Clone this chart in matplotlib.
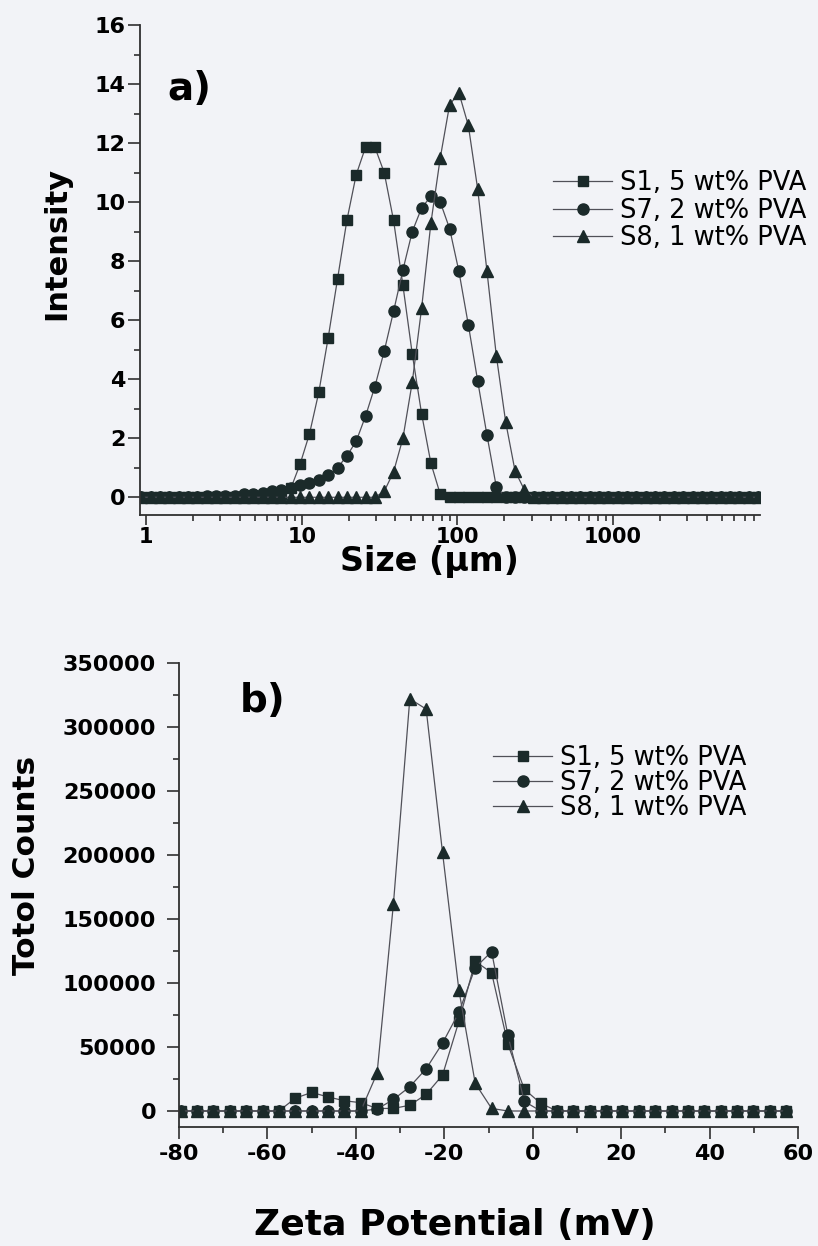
import matplotlib
matplotlib.use("Agg")
import matplotlib.pyplot as plt
from matplotlib.ticker import MultipleLocator, LogLocator, NullFormatter, FixedLocator

plt.rcParams["axes.unicode_minus"] = False

# particle size classes (um)
sizes = [0.933, 1.072, 1.230, 1.413, 1.622, 1.862, 2.138, 2.455, 2.818, 3.236,
         3.715, 4.266, 4.898, 5.623, 6.457, 7.413, 8.511, 9.772, 11.22, 12.88,
         14.79, 16.98, 19.50, 22.39, 25.70, 29.51, 33.88, 38.90, 44.67, 51.29,
         58.88, 67.61, 77.62, 89.13, 102.3, 117.5, 134.9, 154.9, 177.8, 204.2,
         234.4, 269.2, 309.0, 354.8, 407.4, 467.7, 537.0, 616.6, 707.9, 812.8,
         933.3, 1072, 1230, 1413, 1622, 1862, 2138, 2455, 2818, 3236,
         3715, 4266, 4898, 5623, 6457, 7413, 8511]

int_s1 = [0, 0, 0, 0, 0, 0, 0, 0, 0, 0,
          0, 0, 0, 0, 0, 0.1, 0.3, 1.13, 2.15, 3.56,
          5.4, 7.39, 9.38, 10.93, 11.86, 11.86, 11.0, 9.38, 7.18, 4.86,
          2.83, 1.15, 0.1, 0, 0, 0, 0, 0, 0, 0,
          0, 0, 0, 0, 0, 0, 0, 0, 0, 0,
          0, 0, 0, 0, 0, 0, 0, 0, 0, 0,
          0, 0, 0, 0, 0, 0, 0]

int_s7 = [0, 0, 0, 0, 0, 0, 0, 0.05, 0.05, 0.05,
          0.05, 0.1, 0.1, 0.15, 0.2, 0.25, 0.3, 0.4, 0.5, 0.6,
          0.75, 1.0, 1.4, 1.9, 2.75, 3.75, 4.95, 6.3, 7.7, 9.0,
          9.8, 10.2, 10.0, 9.1, 7.65, 5.85, 3.95, 2.1, 0.35, 0,
          0, 0, 0, 0, 0, 0, 0, 0, 0, 0,
          0, 0, 0, 0, 0, 0, 0, 0, 0, 0,
          0, 0, 0, 0, 0, 0, 0]

int_s8 = [0, 0, 0, 0, 0, 0, 0, 0, 0, 0,
          0, 0, 0, 0, 0, 0, 0, 0, 0, 0,
          0, 0, 0, 0, 0, 0, 0.2, 0.86, 2.0, 3.9,
          6.4, 9.3, 11.5, 13.3, 13.7, 12.6, 10.45, 7.65, 4.8, 2.55,
          0.9, 0.25, 0, 0, 0, 0, 0, 0, 0, 0,
          0, 0, 0, 0, 0, 0, 0, 0, 0, 0,
          0, 0, 0, 0, 0, 0, 0]

# zeta potential classes (mV)
zeta = [-79.6, -75.9, -72.2, -68.5, -64.8, -61.1, -57.4, -53.7, -50.0, -46.3,
        -42.6, -38.9, -35.2, -31.5, -27.8, -24.1, -20.4, -16.7, -13.0, -9.3,
        -5.6, -1.9, 1.8, 5.5, 9.2, 12.9, 16.6, 20.3, 24.0, 27.7,
        31.4, 35.1, 38.8, 42.5, 46.2, 49.9, 53.6, 57.3]

cnt_s1 = [0, 0, 0, 0, 0, 0, 0, 10000, 14500, 11000,
          8000, 6500, 2000, 2000, 4500, 13000, 28000, 70000, 117000, 108000,
          52000, 17000, 6000, 0, 0, 0, 0, 0, 0, 0,
          0, 0, 0, 0, 0, 0, 0, 0]

cnt_s7 = [0, 0, 0, 0, 0, 0, 0, 0, 0, 0,
          0, 0, 1500, 9000, 19000, 33000, 53000, 77000, 112000, 124500,
          59000, 7500, 0, 0, 0, 0, 0, 0, 0, 0,
          0, 0, 0, 0, 0, 0, 0, 0]

cnt_s8 = [0, 0, 0, 0, 0, 0, 0, 0, 0, 0,
          0, 0, 29500, 162000, 322000, 314000, 202000, 94500, 21600, 2000,
          0, 0, 0, 0, 0, 0, 0, 0, 0, 0,
          0, 0, 0, 0, 0, 0, 0, 0]

labels = ["S1, 5 wt% PVA", "S7, 2 wt% PVA", "S8, 1 wt% PVA"]

bg = "#f2f3f7"
mk = "#1b2a2a"
ln = "#505058"
W, H = 818, 1246

fig = plt.figure(figsize=(W / 100, H / 100), dpi=100, facecolor=bg)
ax1 = fig.add_axes([140 / W, 1 - 515 / H, 620 / W, 490 / H])
ax2 = fig.add_axes([179 / W, 1 - 1127 / H, 619 / W, 464 / H])


def draw(ax, x, ys):
    styles = [("s", 7.5), ("o", 8.0), ("^", 9.0)]
    for y, (m, ms), lab in zip(ys, styles, labels):
        ax.plot(x, y, color=ln, lw=0.9, marker=m, ms=ms, mfc=mk, mec=mk,
                label=lab)


draw(ax1, sizes, [int_s1, int_s7, int_s8])
draw(ax2, zeta, [cnt_s1, cnt_s7, cnt_s8])

for ax in (ax1, ax2):
    ax.set_facecolor(bg)
    for s in ("top", "right"):
        ax.spines[s].set_visible(False)
    for s in ("left", "bottom"):
        ax.spines[s].set_linewidth(1.3)
        ax.spines[s].set_color("#303030")
    ax.tick_params(which="both", direction="out", color="#303030", width=1.2)
    ax.tick_params(which="major", length=8.5, labelsize=16)
    ax.tick_params(which="minor", length=4.5)

# size distribution
ax1.set_xscale("log")
ax1.set_xlim(0.915, 8780)
ax1.set_ylim(-0.6, 16)
ax1.xaxis.set_major_locator(FixedLocator([1, 10, 100, 1000]))
ax1.xaxis.set_minor_locator(LogLocator(base=10, subs=range(2, 10)))
ax1.xaxis.set_minor_formatter(NullFormatter())
ax1.set_xticklabels(["1", "10", "100", "1000"])
ax1.yaxis.set_major_locator(MultipleLocator(2))
ax1.yaxis.set_minor_locator(MultipleLocator(1))
ax1.tick_params(axis="y", pad=2)
ax1.tick_params(axis="x", which="major", length=7.5, pad=1, labelsize=15)

# zeta potential
ax2.set_xlim(-80, 60)
ax2.set_ylim(-12500, 350000)
ax2.xaxis.set_major_locator(MultipleLocator(20))
ax2.xaxis.set_minor_locator(MultipleLocator(10))
ax2.yaxis.set_major_locator(MultipleLocator(50000))
ax2.yaxis.set_minor_locator(MultipleLocator(25000))
ax2.tick_params(axis="y", pad=8)
ax2.tick_params(axis="x", pad=4)

for ax in (ax1, ax2):
    for t in ax.get_xticklabels() + ax.get_yticklabels():
        t.set_fontweight("bold")

leg_kw = dict(frameon=False, fontsize=18.5, handlelength=2.3, handletextpad=0.3,
              borderpad=0, borderaxespad=0,
              bbox_transform=fig.transFigure, loc="upper left")
ax1.legend(bbox_to_anchor=(553 / W, 1 - 170 / H), labelspacing=0.06, **leg_kw)
ax2.legend(bbox_to_anchor=(493 / W, 1 - 745 / H), labelspacing=-0.04, **leg_kw)

bold = dict(fontweight="bold", ha="center", va="center")
fig.text(57 / W, 1 - 243 / H, "Intensity", rotation=90, fontsize=22, **bold)
fig.text(429 / W, 1 - 562 / H, "Size (µm)", fontsize=24, **bold)
fig.text(27 / W, 1 - 865 / H, "Totol Counts", rotation=90, fontsize=22.5, **bold)
fig.text(455 / W, 1 - 1225 / H, "Zeta Potential (mV)", fontsize=26, **bold)

fig.text(167 / W, 1 - 100 / H, "a)", fontsize=28, fontweight="bold")
fig.text(240 / W, 1 - 712 / H, "b)", fontsize=28, fontweight="bold")

fig.savefig("out.png", dpi=100, facecolor=bg)
